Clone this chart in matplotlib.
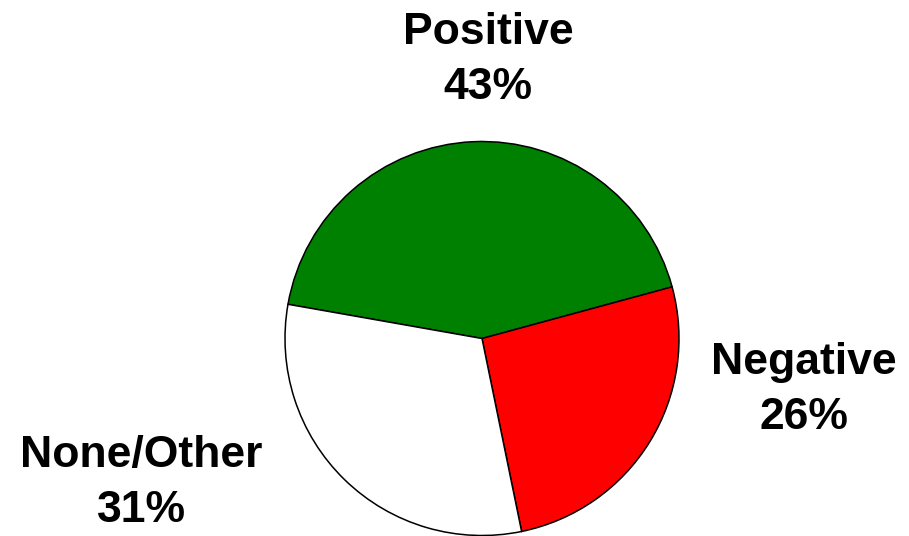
import matplotlib
matplotlib.use("Agg")
import matplotlib.pyplot as plt

categories = ["Positive", "Negative", "None/Other"]
values = [43, 26, 31]
colors = ["#008000", "#FF0000", "#FFFFFF"]

W, H = 909, 536
fig = plt.figure(figsize=(W / 100, H / 100), dpi=100)
ax = fig.add_axes([0, 0, 1, 1])
ax.set_xlim(0, W)
ax.set_ylim(0, H)
ax.set_aspect("equal")
ax.axis("off")

cx, cy, r = 482, H - 338.5, 197
ax.pie(values, colors=colors, startangle=170, counterclock=False,
       center=(cx, cy), radius=r,
       wedgeprops=dict(edgecolor="black", linewidth=1.1))
ax.set_xlim(0, W)
ax.set_ylim(0, H)

label_pos = [(488, H - 60), (804, H - 390), (141, H - 483)]
for cat, v, (x, y) in zip(categories, values, label_pos):
    ax.text(x, y, f"{cat}\n{v}%", ha="center", va="center",
            fontsize=32, fontweight="bold", family="Liberation Sans",
            linespacing=1.45)

fig.savefig("out.png", dpi=100)
